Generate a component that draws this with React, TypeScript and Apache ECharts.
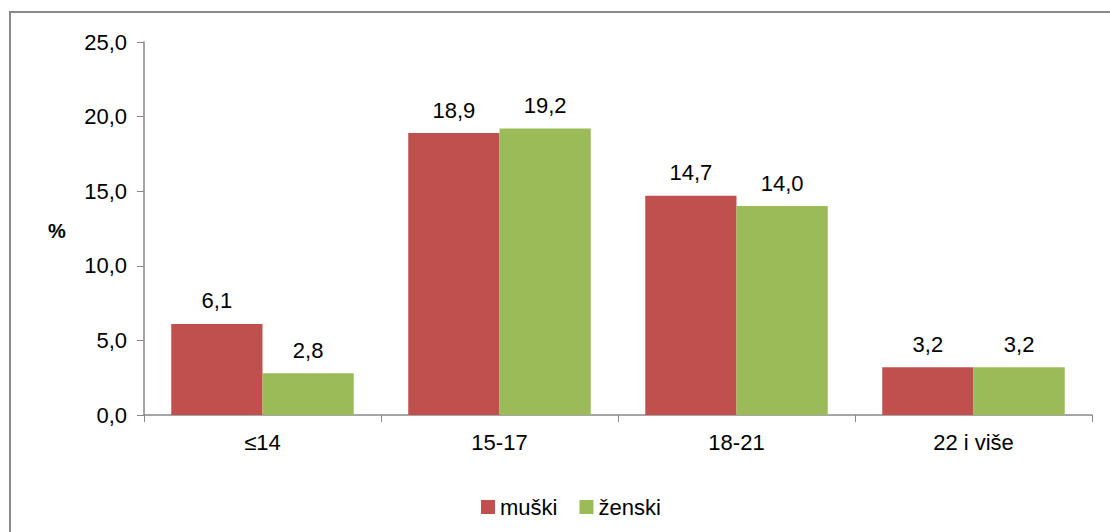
import React, { useEffect, useRef } from "react";
import * as echarts from "echarts";

const categories = ["≤14", "15-17", "18-21", "22 i više"];
const muski = [6.1, 18.9, 14.7, 3.2];
const zenski = [2.8, 19.2, 14.0, 3.2];
const seriesNames = ["muški", "ženski"];

const FONT = "'Liberation Sans', Arial, sans-serif";
const FS = 22;
const fmt = (v: number) => v.toFixed(1).replace(".", ",");

export default function App() {
  const ref = useRef<HTMLDivElement>(null);
  useEffect(() => {
    document.body.style.margin = "0";
    const chart = echarts.init(ref.current!, null, { renderer: "svg" });
    const label = {
      show: true,
      position: "top" as const,
      distance: 12,
      fontFamily: FONT,
      fontSize: FS,
      color: "#000",
      formatter: (p: any) => fmt(p.value),
    };
    chart.setOption({
      animation: false,
      textStyle: { fontFamily: FONT },
      grid: { left: 144, right: 18, top: 42, bottom: 117 },
      legend: {
        data: seriesNames,
        top: 491,
        left: 476,
        itemWidth: 14,
        itemHeight: 14,
        itemGap: 22,
        icon: "rect",
        textStyle: { fontFamily: FONT, fontSize: FS, color: "#000" },
      },
      graphic: [
        {
          type: "rect",
          shape: { x: 10, y: 12, width: 1200, height: 600 },
          style: { fill: "none", stroke: "#8a8a8a", lineWidth: 2 },
          silent: true,
        },
        {
          type: "text",
          left: 48,
          top: 221,
          style: { text: "%", font: "bold 20px " + FONT, fill: "#000" },
        },
      ],
      xAxis: {
        type: "category",
        data: categories,
        axisLine: { lineStyle: { color: "#888", width: 1.5 } },
        axisTick: { show: true, length: 7, lineStyle: { color: "#888" } },
        axisLabel: { fontFamily: FONT, fontSize: FS, color: "#000", margin: 16 },
      },
      yAxis: {
        type: "value",
        min: 0,
        max: 25,
        interval: 5,
        axisLine: { show: true, lineStyle: { color: "#888", width: 1.5 } },
        axisTick: { show: true, length: 7, lineStyle: { color: "#888" } },
        splitLine: { show: false },
        axisLabel: { fontFamily: FONT, fontSize: FS, color: "#000", margin: 17, formatter: (v: number) => fmt(v) },
      },
      series: [
        {
          name: seriesNames[0],
          type: "bar",
          data: muski,
          itemStyle: { color: "#C0504D" },
          barGap: "0%",
          barCategoryGap: "23%",
          label,
        },
        {
          name: seriesNames[1],
          type: "bar",
          data: zenski,
          itemStyle: { color: "#9BBB59" },
          label,
        },
      ],
    });
    return () => chart.dispose();
  }, []);
  return <div ref={ref} style={{ width: 1110, height: 532 }} />;
}
